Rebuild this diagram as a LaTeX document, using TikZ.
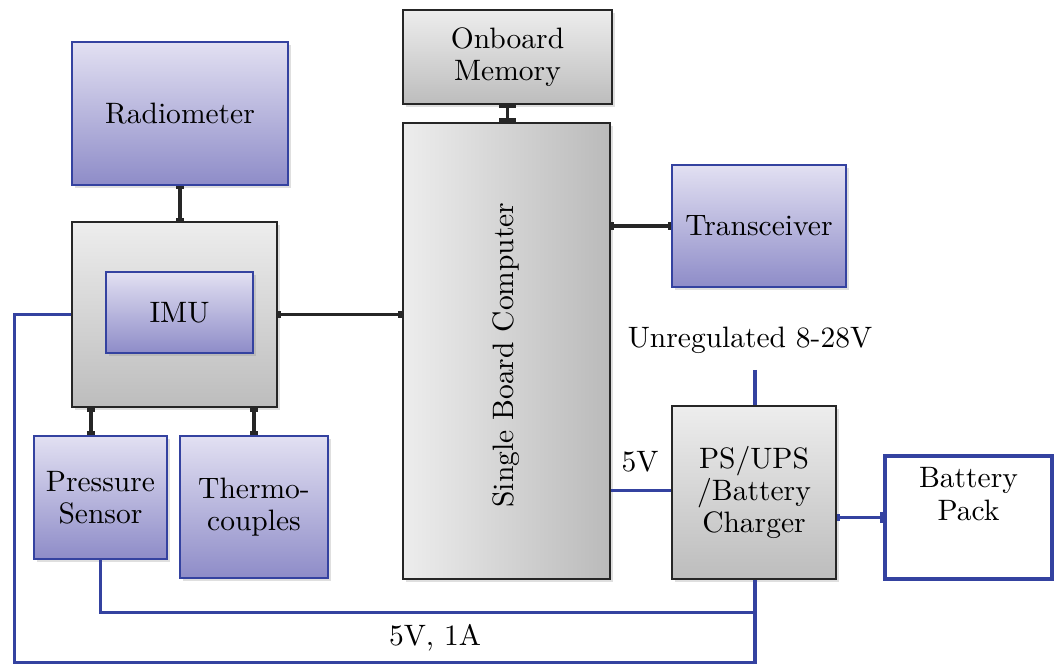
\documentclass[tikz,border=0pt]{standalone}
\usepackage{tikz}
\usetikzlibrary{arrows.meta,positioning,calc,shadows}
\definecolor{boxblue}{RGB}{52,66,160}
\definecolor{violtop}{RGB}{226,224,242}
\definecolor{violbot}{RGB}{142,140,200}

\begin{document}
\begin{tikzpicture}[
    sensor/.style={draw=boxblue, line width=0.6pt, top color=violtop, bottom color=violbot,
        align=center, font=\fontsize{10.5}{11.5}\selectfont,
        drop shadow={opacity=0.25, shadow xshift=0.04cm, shadow yshift=-0.04cm}},
    unit/.style={draw=black!85, line width=0.6pt, top color=black!7, bottom color=black!26,
        align=center, font=\fontsize{10.5}{11.5}\selectfont,
        drop shadow={opacity=0.25, shadow xshift=0.04cm, shadow yshift=-0.04cm}},
    link/.style={line width=1.3pt, black!85, {Bar[width=2.6pt]}-{Bar[width=2.6pt]}},
    pwr/.style={line width=1.1pt, boxblue},
    lbl/.style={font=\fontsize{10.5}{11.5}\selectfont}
]
\useasboundingbox (0,0) rectangle (13.1875,8.3125);

% sensors
\node[sensor, minimum width=2.7cm, minimum height=1.7875cm] (radio) at (2.25,6.894) {Radiometer};
\node[unit, minimum width=2.5625cm, minimum height=2.3125cm] (imu) at (2.181,4.381) {};
\node[sensor, minimum width=1.8375cm, minimum height=1.0125cm] (imuin) at (2.244,4.406) {IMU};
\node[sensor, minimum width=1.6625cm, minimum height=1.5375cm] (pres) at (1.256,2.094) {Pressure\\Sensor};
\node[sensor, minimum width=1.85cm, minimum height=1.775cm] (thermo) at (3.175,1.975) {Thermo-\\couples};

% computer
\node[unit, minimum width=2.6125cm, minimum height=1.175cm] (mem) at (6.344,7.6) {Onboard\\Memory};
\node[unit, left color=black!7, right color=black!27, minimum width=2.5875cm, minimum height=5.7cm] (sbc) at (6.331,3.925) {};
\node[lbl, rotate=90] (sbctxt) at ($(sbc.center)+(0,-0.05)$) {Single Board Computer};
\node[sensor, minimum width=2.175cm, minimum height=1.525cm] (trx) at (9.4875,5.4875) {Transceiver};

% power
\node[unit, minimum width=2.05cm, minimum height=2.1625cm] (ps) at (9.425,2.156) {PS/UPS\\/Battery\\Charger};
\node[draw=boxblue, line width=1.1pt, fill=white, minimum width=2.0875cm, minimum height=1.5375cm] (bat) at (12.106,1.844) {};
\node[lbl, align=center, below=0.04cm of bat.north] (battxt) {Battery\\Pack};

\node[lbl] (unreg) at (9.375,4.0625) {Unregulated 8-28V};
\coordinate (vin) at (9.4375,3.6875);
\node[lbl] (v5) at (8.0,2.5375) {5V};
\node[lbl] (v5a) at (5.4375,0.3375) {5V, 1A};

% data links
\draw[link] (radio.south) -- (radio.south |- imu.north);
\draw[link] (imu.east) -- (imu.east -| sbc.west);
\draw[link, {Bar[width=6pt]}-{Bar[width=6pt]}] (mem.south) -- (mem.south |- sbc.north);
\draw[link] (sbc.east |- trx.west) -- (trx.west);
\coordinate (pt) at ($(imu.south west)+(0.25,0)$);
\draw[link] (pt) -- (pt |- pres.north);
\draw[link] (thermo.north |- imu.south) -- (thermo.north);

% power lines
\draw[pwr] (vin) -- (vin |- ps.north);
\draw[pwr] ($(ps.west)+(0,0.03)$) -- ($(ps.west -| sbc.east)+(0,0.03)$);
\draw[pwr, {Bar[width=2.6pt]}-{Bar[width=4pt]}] (ps.east |- bat.west) -- (bat.west);
\coordinate (bus) at ($(vin |- ps.south)+(0,-0.4125)$);
\draw[pwr] (pres.south) |- (bus) -- (vin |- ps.south);
\draw[pwr] (imu.west) -- ++(-0.7125,0) |- ($(bus)+(0,-0.625)$) -- (bus);
\end{tikzpicture}
\end{document}
